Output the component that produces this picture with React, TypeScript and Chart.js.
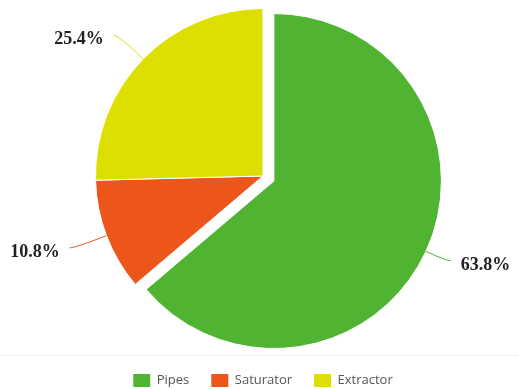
import React, { useEffect, useRef } from 'react';
import { Chart, registerables } from 'chart.js';

Chart.register(...registerables);

const categories = ['Pipes', 'Saturator', 'Extractor'];
const shares = [63.8, 10.8, 25.4];
const sliceColors = ['#50B432', '#ED561B', '#DDDF00'];
const explodedCategory = 'Pipes';

const PIE_RADIUS = 167.5;
const EXPLODE_DISTANCE = 12;
const CONNECTOR_REACH = 34;

const explodePlugin = {
  id: 'explodeSlice',
  afterDatasetsUpdate(chart: any) {
    const meta = chart.getDatasetMeta(0);
    meta.data.forEach((arc: any, i: number) => {
      if (categories[i] !== explodedCategory) return;
      const mid = (arc.startAngle + arc.endAngle) / 2;
      arc.x += Math.cos(mid) * EXPLODE_DISTANCE;
      arc.y += Math.sin(mid) * EXPLODE_DISTANCE;
    });
  },
};

const separatorPlugin = {
  id: 'separator',
  beforeDraw(chart: any) {
    const ctx = chart.ctx;
    const y = Math.round(chart.chartArea.bottom) + 3.5;
    ctx.save();
    ctx.strokeStyle = '#f3f3f3';
    ctx.lineWidth = 1;
    ctx.beginPath();
    ctx.moveTo(0, y);
    ctx.lineTo(chart.width, y);
    ctx.stroke();
    ctx.restore();
  },
};

const outsideLabelsPlugin = {
  id: 'outsideLabels',
  afterDatasetsDraw(chart: any) {
    const ctx = chart.ctx;
    const area = chart.chartArea;
    const cx = (area.left + area.right) / 2;
    const cy = (area.top + area.bottom) / 2;
    const meta = chart.getDatasetMeta(0);
    meta.data.forEach((arc: any, i: number) => {
      const { x, y, startAngle, endAngle, outerRadius } = arc;
      const mid = (startAngle + endAngle) / 2;
      const dx = Math.cos(mid);
      const dy = Math.sin(mid);
      const p0x = x + outerRadius * dx;
      const p0y = y + outerRadius * dy;
      const c1x = cx + (outerRadius + CONNECTOR_REACH) * dx;
      const c1y = cy + (outerRadius + CONNECTOR_REACH) * dy;
      const side = dx >= 0 ? 1 : -1;
      const ex = c1x + side * 5;
      const ey = c1y;
      ctx.save();
      ctx.strokeStyle = sliceColors[i];
      ctx.lineWidth = 1;
      ctx.beginPath();
      ctx.moveTo(p0x, p0y);
      ctx.quadraticCurveTo(c1x, c1y, ex, ey);
      ctx.stroke();
      ctx.fillStyle = '#222';
      ctx.font = 'bold 18px "Liberation Serif", "Times New Roman", serif';
      ctx.textAlign = side > 0 ? 'left' : 'right';
      ctx.textBaseline = 'middle';
      ctx.fillText(shares[i].toFixed(1) + '%', ex + side * 10, ey + 4.5);
      ctx.restore();
    });
  },
};

export default function App() {
  const canvasRef = useRef<HTMLCanvasElement | null>(null);

  useEffect(() => {
    if (!canvasRef.current) return;
    const baseLabels = (Chart as any).overrides.doughnut.plugins.legend.labels.generateLabels;
    const chart = new Chart(canvasRef.current, {
      type: 'pie',
      data: {
        labels: categories,
        datasets: [
          {
            data: shares,
            backgroundColor: sliceColors,
            borderColor: '#ffffff',
            borderWidth: 1,
            hoverBorderWidth: 1,
            offset: 0,
            hoverOffset: 0,
            clip: false,
          } as any,
        ],
      },
      options: {
        responsive: true,
        maintainAspectRatio: false,
        animation: false,
        radius: PIE_RADIUS,
        layout: { padding: { top: -2, bottom: -8, left: 7, right: 0 } },
        plugins: {
          tooltip: { enabled: false },
          legend: {
            position: 'bottom',
            labels: {
              boxWidth: 17,
              boxHeight: 13,
              padding: 22,
              color: '#555',
              font: { family: '"Open Sans", sans-serif', size: 13 },
              generateLabels: (c: any) =>
                baseLabels(c).map((l: any) => ({ ...l, lineWidth: 0, strokeStyle: 'rgba(0,0,0,0)' })),
            },
          },
        },
      } as any,
      plugins: [explodePlugin, separatorPlugin, outsideLabelsPlugin],
    });
    return () => chart.destroy();
  }, []);

  return (
    <div style={{ position: 'fixed', left: 0, top: 0, width: 519, height: 389, background: '#fff' }}>
      <canvas ref={canvasRef} />
    </div>
  );
}
